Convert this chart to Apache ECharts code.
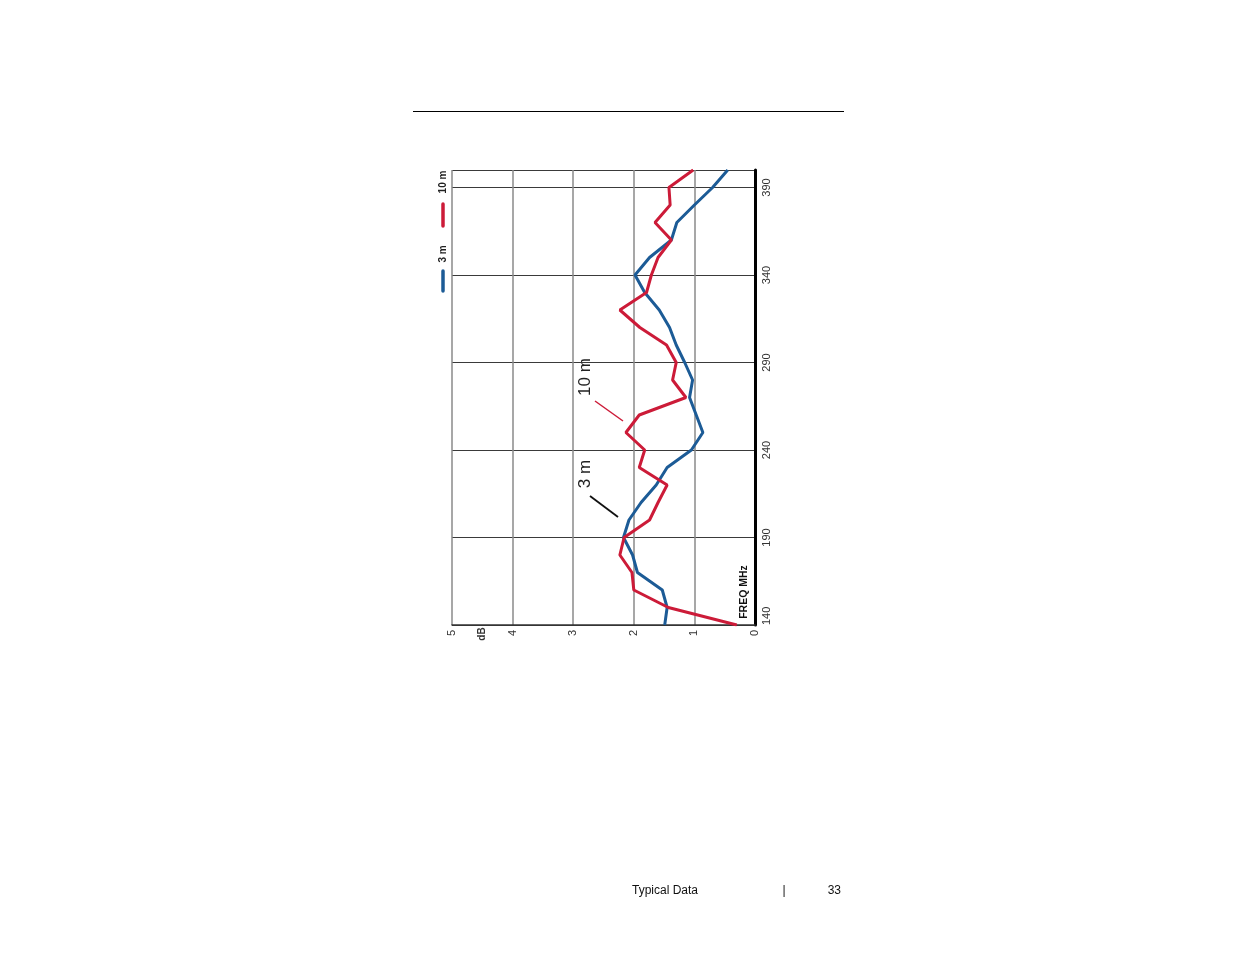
<!DOCTYPE html>
<html>
<head>
<meta charset="utf-8">
<title>Typical Data</title>
<script src="https://cdn.jsdelivr.net/npm/echarts@6/dist/echarts.min.js"></script>
<style>
  html, body { margin: 0; padding: 0; background: #fff; }
  #chart { width: 1235px; height: 954px; }
</style>
</head>
<body>
<div id="chart"></div>
<script>
// frequency steps, MHz (vertical axis in the rotated plot)
const freqs = [140, 150, 160, 170, 180, 190, 200, 210, 220, 230, 240, 250, 260, 270,
  280, 290, 300, 310, 320, 330, 340, 350, 360, 370, 380, 390, 400];

// dB values
const dB3m = [1.49, 1.45, 1.53, 1.94, 2.02, 2.17, 2.08, 1.88, 1.63, 1.45, 1.05, 0.86, 0.97, 1.08,
  1.03, 1.16, 1.30, 1.41, 1.58, 1.82, 1.98, 1.74, 1.38, 1.29, 1.00, 0.70, 0.45];
const dB10m = [0.30, 1.43, 2.00, 2.03, 2.23, 2.16, 1.74, 1.60, 1.45, 1.91, 1.82, 2.13, 1.91, 1.14,
  1.36, 1.30, 1.46, 1.90, 2.23, 1.79, 1.71, 1.60, 1.38, 1.65, 1.40, 1.42, 1.02];

const dbTicks = [0, 1, 2, 3, 4, 5];
const freqTicks = [140, 190, 240, 290, 340, 390];

const RED = '#cc1b38';
const BLUE = '#1c5b96';
const labelFont = '"Liberation Sans Narrow", "Liberation Sans", Arial, sans-serif';
const textFont = '"Liberation Sans", Arial, sans-serif';

// pairs [dB, MHz] because the chart is drawn turned on its side
const toPairs = (vals) => vals.map((v, i) => [v, freqs[i]]);

const rotText = (text, x, y, size, weight, color) => ({
  type: 'text',
  x: x,
  y: y,
  rotation: Math.PI / 2,
  style: {
    text: text,
    fill: color || '#222',
    font: (weight || 'normal') + ' ' + size + 'px ' + textFont,
    align: 'center',
    verticalAlign: 'middle'
  }
});

const chart = echarts.init(document.getElementById('chart'));

const option = {
  backgroundColor: '#fff',
  animation: false,
  grid: { left: 452, top: 170, width: 303, height: 455, containLabel: false },
  xAxis: {
    type: 'value',
    inverse: true,
    min: dbTicks[0],
    max: dbTicks[dbTicks.length - 1],
    interval: 1,
    position: 'bottom',
    axisLine: { show: true, lineStyle: { color: '#333', width: 1.5 } },
    axisTick: { show: false },
    splitLine: { show: true, lineStyle: { color: '#8a8a8a', width: 1.5 } },
    axisLabel: {
      rotate: 90,
      margin: 5,
      fontSize: 11,
      color: '#333',
      fontFamily: labelFont
    }
  },
  yAxis: {
    type: 'value',
    position: 'right',
    min: freqTicks[0],
    max: 400,
    interval: 50,
    axisLine: { show: true, lineStyle: { color: '#000', width: 3 } },
    axisTick: { show: false },
    splitLine: { show: true, lineStyle: { color: '#3a3a3a', width: 1.2 } },
    axisLabel: {
      rotate: 90,
      margin: 6,
      fontSize: 11,
      color: '#333',
      fontFamily: labelFont,
      showMaxLabel: false,
      alignMinLabel: 'left',
      formatter: (v) => (freqTicks.indexOf(v) >= 0 ? String(v) : '')
    }
  },
  series: [
    {
      name: '3 m',
      type: 'line',
      data: toPairs(dB3m),
      showSymbol: false,
      lineStyle: { color: BLUE, width: 3 },
      itemStyle: { color: BLUE },
      z: 3
    },
    {
      name: '10 m',
      type: 'line',
      data: toPairs(dB10m),
      showSymbol: false,
      lineStyle: { color: RED, width: 3 },
      itemStyle: { color: RED },
      z: 4
    }
  ],
  graphic: [
    // page rule above the figure
    { type: 'line', shape: { x1: 413, y1: 111.5, x2: 844, y2: 111.5 }, style: { stroke: '#000', lineWidth: 1 } },
    // legend, turned like the plot
    { type: 'line', shape: { x1: 443, y1: 204, x2: 443, y2: 226 }, style: { stroke: RED, lineWidth: 3.5, lineCap: 'round' } },
    rotText('10 m', 443, 182, 10, 'bold', '#222'),
    { type: 'line', shape: { x1: 443, y1: 271, x2: 443, y2: 291 }, style: { stroke: BLUE, lineWidth: 3.5, lineCap: 'round' } },
    rotText('3 m', 443, 254, 10, 'bold', '#222'),
    // axis titles
    rotText('dB', 482, 634, 10, 'bold', '#333'),
    rotText('FREQ MHz', 744, 592, 10.5, 'bold', '#111'),
    // curve call-outs
    rotText('10 m', 585, 377, 17, 'normal', '#222'),
    { type: 'line', shape: { x1: 595, y1: 401, x2: 623, y2: 421 }, style: { stroke: RED, lineWidth: 1.5 } },
    rotText('3 m', 585, 474, 17, 'normal', '#222'),
    { type: 'line', shape: { x1: 590, y1: 496, x2: 618, y2: 517 }, style: { stroke: '#111', lineWidth: 1.8 } },
    // footer
    { type: 'text', x: 632, y: 891, style: { text: 'Typical Data', fill: '#111', font: '12px ' + textFont, verticalAlign: 'middle' } },
    { type: 'text', x: 784, y: 891, style: { text: '|', fill: '#111', font: '12px ' + textFont, align: 'center', verticalAlign: 'middle' } },
    { type: 'text', x: 841, y: 891, style: { text: '33', fill: '#111', font: '12px ' + textFont, align: 'right', verticalAlign: 'middle' } }
  ]
};

chart.setOption(option);
</script>
</body>
</html>
